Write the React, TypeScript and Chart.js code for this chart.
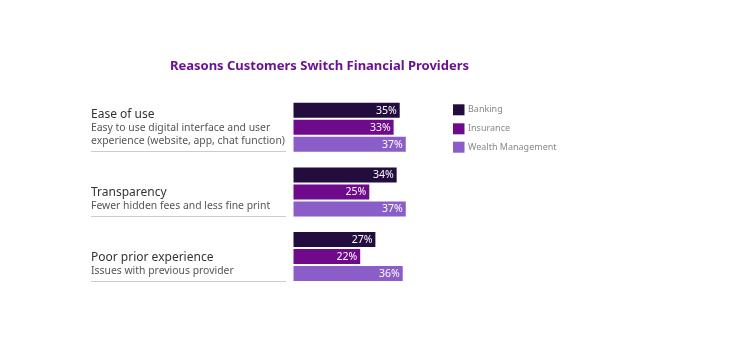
import React, { useEffect, useRef } from "react";
import { Chart, registerables } from "chart.js";

Chart.register(...registerables);

const categories = ["Ease of use", "Transparency", "Poor prior experience"];
const subtitles = [
  ["Easy to use digital interface and user", "experience (website, app, chat function)"],
  ["Fewer hidden fees and less fine print"],
  ["Issues with previous provider"],
];
const seriesNames = ["Banking", "Insurance", "Wealth Management"];
const banking = [35, 34, 27];
const insurance = [33, 25, 22];
const wealth = [37, 37, 36];
const colors = ["#230d3e", "#6f0a8d", "#8a5dc8"];
const chartTitle = "Reasons Customers Switch Financial Providers";

const FONT = "'Noto Sans', sans-serif";

const drawPlugin = {
  id: "customDraw",
  afterDatasetsDraw(chart: any) {
    const ctx = chart.ctx;
    ctx.save();
    // value labels
    chart.data.datasets.forEach((ds: any, i: number) => {
      const meta = chart.getDatasetMeta(i);
      meta.data.forEach((el: any, j: number) => {
        ctx.fillStyle = "#ffffff";
        ctx.font = `10.5px ${FONT}`;
        ctx.textAlign = "right";
        ctx.textBaseline = "middle";
        ctx.fillText(ds.data[j] + "%", el.x - 3, el.y + 0.5);
      });
    });
    // title
    ctx.fillStyle = "#6b1290";
    ctx.font = `bold 13px ${FONT}`;
    ctx.textAlign = "center";
    ctx.textBaseline = "middle";
    ctx.fillText(chartTitle, 311.5, 58);
    // left labels
    const yScale = chart.scales.y;
    categories.forEach((cat, i) => {
      const c = yScale.getPixelForValue(i);
      const lineY = Math.round(c + 24) + 0.5;
      ctx.strokeStyle = "#cccccc";
      ctx.lineWidth = 1;
      ctx.beginPath();
      ctx.moveTo(83, lineY);
      ctx.lineTo(278, lineY);
      ctx.stroke();
      const subs = subtitles[i];
      ctx.textAlign = "left";
      ctx.textBaseline = "middle";
      ctx.font = `10.4px ${FONT}`;
      ctx.fillStyle = "#555555";
      for (let k = 0; k < subs.length; k++) {
        const y = lineY - 10.5 - (subs.length - 1 - k) * 12.5;
        ctx.fillText(subs[k], 83, y);
      }
      ctx.font = `12px ${FONT}`;
      ctx.fillStyle = "#333333";
      const ty = lineY - 10.5 - (subs.length - 1) * 12.5 - 13.5;
      ctx.fillText(cat, 83, ty);
    });
    // legend
    const legY = [96.3, 115.3, 133.7];
    seriesNames.forEach((name, i) => {
      ctx.fillStyle = colors[i];
      ctx.fillRect(445, legY[i], 11.5, 11);
      ctx.fillStyle = "#888888";
      ctx.font = `9px ${FONT}`;
      ctx.textAlign = "left";
      ctx.textBaseline = "middle";
      ctx.fillText(name, 460, legY[i] + 5.5);
    });
    ctx.restore();
  },
};

export default function App() {
  const ref = useRef<HTMLCanvasElement>(null);
  useEffect(() => {
    if (!ref.current) return;
    const chart = new Chart(ref.current, {
      type: "bar",
      data: {
        labels: categories,
        datasets: [banking, insurance, wealth].map((d, i) => ({
          label: seriesNames[i],
          data: d,
          backgroundColor: colors[i],
          borderWidth: 0,
          barPercentage: 0.88,
          categoryPercentage: 0.789,
        })),
      },
      options: {
        indexAxis: "y",
        animation: false,
        responsive: true,
        maintainAspectRatio: false,
        layout: { padding: { left: 285.3, right: 313.1, top: 86.9, bottom: 62.1 } },
        scales: {
          x: { display: false, min: 0, max: 40 },
          y: { display: false },
        },
        plugins: {
          legend: { display: false },
          title: { display: false },
          tooltip: { enabled: false },
        },
      },
      plugins: [drawPlugin],
    });
    return () => chart.destroy();
  }, []);
  return (
    <div style={{ width: 720, height: 343, position: "relative" }}>
      <canvas ref={ref} />
    </div>
  );
}
